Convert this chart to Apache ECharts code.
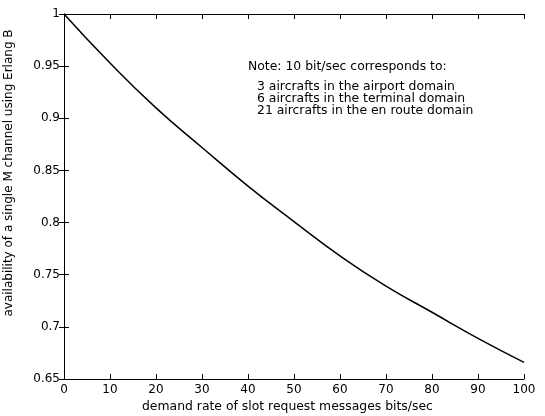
<!DOCTYPE html>
<html>
<head>
<meta charset="utf-8">
<script src="https://cdn.jsdelivr.net/npm/echarts@6/dist/echarts.min.js"></script>
<style>
  html, body { margin: 0; padding: 0; background: #fff; }
  #chart { width: 545px; height: 416px; }
</style>
</head>
<body>
<div id="chart"></div>
<script>
  // demand rate (bits/sec)
  const demandRate = [0, 10, 20, 30, 40, 50, 60, 70, 80, 90, 100]
  // availability
  const availability = [1.0, 0.953, 0.91, 0.872, 0.835, 0.801, 0.768, 0.739, 0.714, 0.689, 0.666]
  const noteLines = [
    'Note: 10 bit/sec corresponds to:',
    '3 aircrafts in the airport domain',
    '6 aircrafts in the terminal domain',
    '21 aircrafts in the en route domain'
  ]

  const font = 'DejaVu Sans, sans-serif'
  const chart = echarts.init(document.getElementById('chart'))

  const axisLine = { show: true, lineStyle: { color: '#000', width: 1 } }
  const tick = { show: true, inside: true, length: 5, lineStyle: { color: '#000' } }

  chart.setOption({
    animation: false,
    grid: { left: 64, right: 21, top: 14, bottom: 37 },
    xAxis: [
      {
        type: 'value', min: 0, max: 100, interval: 10,
        axisLine: axisLine, axisTick: tick, splitLine: { show: false },
        axisLabel: { color: '#000', fontSize: 12, fontFamily: font, margin: 5 }
      },
      {
        type: 'value', position: 'top', min: 0, max: 100, interval: 10,
        axisLine: axisLine, axisTick: tick, splitLine: { show: false },
        axisLabel: { show: false }
      }
    ],
    yAxis: [
      {
        type: 'value', min: 0.65, max: 1, interval: 0.05,
        axisLine: axisLine, axisTick: tick, splitLine: { show: false },
        axisLabel: {
          color: '#000', fontSize: 12, fontFamily: font, margin: 4,
          formatter: v => String(+v.toFixed(2))
        }
      },
      {
        type: 'value', position: 'right', min: 0.65, max: 1, interval: 0.05,
        axisLine: axisLine, axisTick: tick, splitLine: { show: false },
        axisLabel: { show: false }
      }
    ],
    series: [
      {
        type: 'line',
        data: demandRate.map((x, i) => [x, availability[i]]),
        smooth: true,
        showSymbol: false,
        lineStyle: { color: '#000', width: 1.5 }
      }
    ],
    graphic: [
      {
        type: 'text', left: 142, top: 401,
        style: { text: 'demand rate of slot request messages bits/sec', fill: '#000', font: '12.4px ' + font }
      },
      {
        type: 'text', x: 3, y: 173, rotation: Math.PI / 2, originX: 0, originY: 0,
        style: {
          text: 'availability of a single M channel using Erlang B',
          fill: '#000', font: '12px ' + font, align: 'center', verticalAlign: 'top'
        }
      },
      {
        type: 'text', left: 248, top: 61,
        style: { text: noteLines[0], fill: '#000', font: '12.4px ' + font }
      },
      {
        type: 'text', left: 257, top: 81,
        style: { text: noteLines.slice(1).join('\n'), fill: '#000', font: '12.4px ' + font, lineHeight: 11.8 }
      }
    ]
  })
</script>
</body>
</html>
